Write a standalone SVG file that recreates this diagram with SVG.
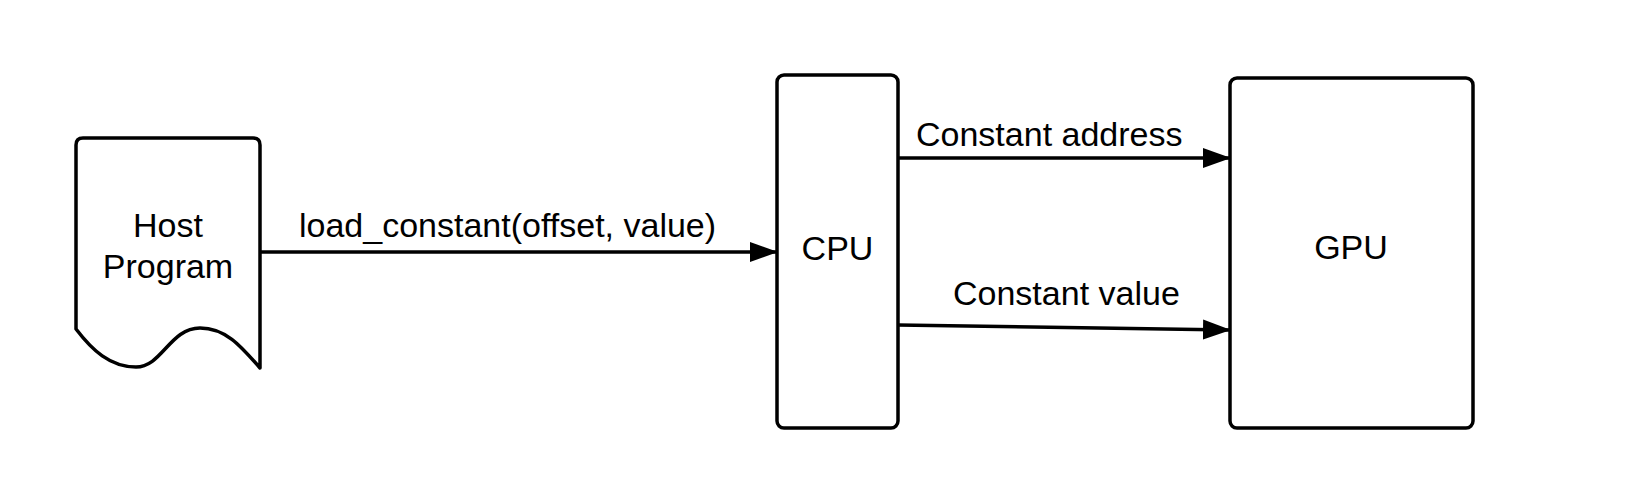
<svg xmlns="http://www.w3.org/2000/svg" width="1652" height="504" viewBox="0 0 1652 504">
<style>
.shape{fill:#fff;stroke:#000;stroke-width:3.5;stroke-linejoin:round}
.edge{fill:none;stroke:#000;stroke-width:3.5}
text{font-family:"Liberation Sans",Arial,sans-serif;font-size:34px;fill:#000}
.c{text-anchor:middle}
</style>
<defs>
<marker id="arrow" markerUnits="userSpaceOnUse" markerWidth="28" markerHeight="22" refX="27" refY="11" orient="auto">
<path d="M0,1 L28,11 L0,21 Z" fill="#000"/>
</marker>
</defs>
<rect width="1652" height="504" fill="#fff"/>
<g id="connectors">
<g id="e-host-cpu">
<path class="edge" d="M260 252 L777 252" marker-end="url(#arrow)"/>
<text x="299" y="237">load_constant(offset, value)</text>
</g>
<g id="e-cpu-gpu-addr">
<path class="edge" d="M898 158 L1230 158" marker-end="url(#arrow)"/>
<text x="916" y="146">Constant address</text>
</g>
<g id="e-cpu-gpu-val">
<path class="edge" d="M898 325 L1230 330" marker-end="url(#arrow)"/>
<text x="953" y="305">Constant value</text>
</g>
</g>
<g id="host">
<path class="shape" d="M76 145 Q76 138 83 138 L253 138 Q260 138 260 145 L260 368 C240 345 225 328 200 328 C170 328 162 367 136 367 C110 367 92 350 76 329 Z"/>
<text class="c" x="168" y="237">Host</text>
<text class="c" x="168" y="278">Program</text>
</g>
<g id="cpu">
<rect class="shape" x="777" y="75" width="121" height="353" rx="7"/>
<text class="c" x="837.5" y="260">CPU</text>
</g>
<g id="gpu">
<rect class="shape" x="1230" y="78" width="243" height="350" rx="7"/>
<text class="c" x="1351" y="259">GPU</text>
</g>
</svg>
